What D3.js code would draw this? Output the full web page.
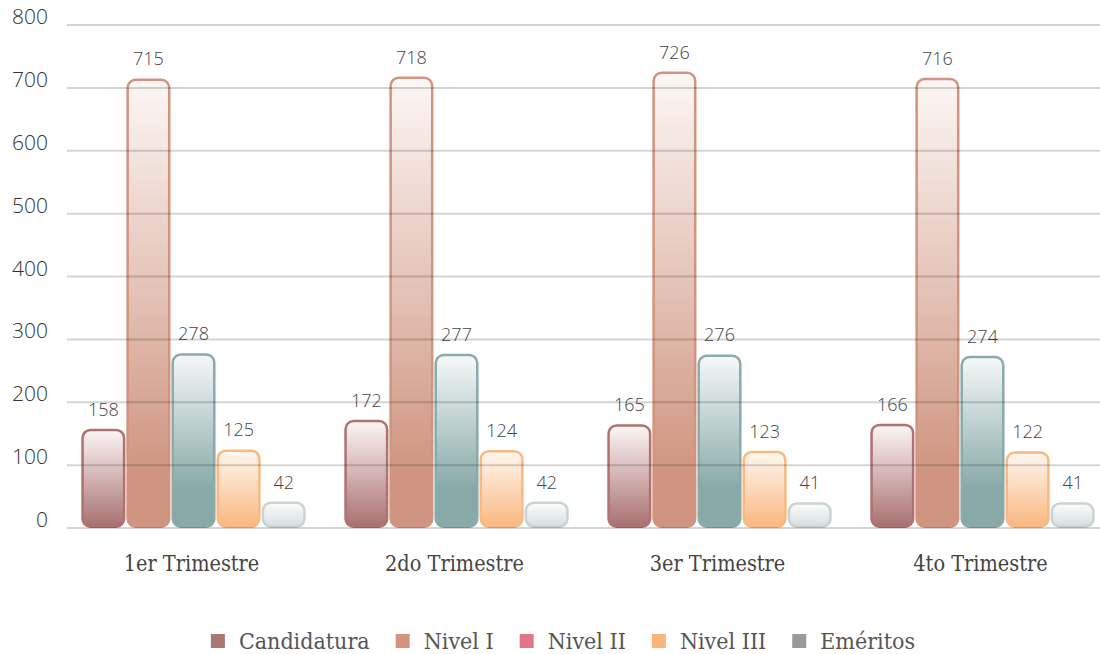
<!DOCTYPE html>
<html>
<head>
<meta charset="utf-8">
<script src="https://cdn.jsdelivr.net/npm/d3@7"></script>
<style>
	body { margin: 0; background: #fff; }
	svg { display: block; }
</style>
</head>
<body>
<svg id="chart" width="1100" height="654"></svg>
<script>
"use strict";

// Data
const categories = ["1er Trimestre", "2do Trimestre", "3er Trimestre", "4to Trimestre"];
const seriesNames = ["Candidatura", "Nivel I", "Nivel II", "Nivel III", "Eméritos"];
const candidatura = [158, 172, 165, 166];
const nivelI = [715, 718, 726, 716];
const nivelII = [278, 277, 276, 274];
const nivelIII = [125, 124, 123, 122];
const emeritos = [42, 42, 41, 41];
const yTicks = [0, 100, 200, 300, 400, 500, 600, 700, 800];

const seriesValues = [candidatura, nivelI, nivelII, nivelIII, emeritos];

// Styles
const legendColors = ["#a97872", "#d3937f", "#e27686", "#f9b57c", "#9a9a9a"];
const barStyles = [
	{top: "#fcf6f5", bottom: "#a87070", stop: 1.0, stroke: "#b07171"},
	{top: "#fcf7f5", bottom: "#cf9580", stop: 0.88, stroke: "#d3947f"},
	{top: "#f5f8f8", bottom: "#88a9a8", stop: 0.78, stroke: "#8aabaa"},
	{top: "#fff7f0", bottom: "#f9b880", stop: 1.0, stroke: "#fab982"},
	{top: "#fbfcfc", bottom: "#d7dedf", stop: 1.0, stroke: "#c9d3d4"}
];

const slabFont = "'DejaVu Serif Condensed', 'DejaVu Serif', serif";
const numFont = "'Open Sans', 'Noto Sans', sans-serif";

const svg = d3.select("#chart");

const y = d3.scaleLinear()
	.domain([0, 800])
	.range([528, 25]);

const x0 = d3.scaleBand()
	.domain(categories)
	.range([62, 1114])
	.paddingInner(0.143)
	.paddingOuter(0.0715);

const x1 = d3.scaleBand()
	.domain(seriesNames)
	.range([0, x0.bandwidth()]);

// Gradients
const defs = svg.append("defs");
barStyles.forEach((s, i) => {
	const g = defs.append("linearGradient")
		.attr("id", "grad-" + i)
		.attr("x1", 0).attr("y1", 0)
		.attr("x2", 0).attr("y2", 1);
	g.append("stop").attr("offset", 0).attr("stop-color", s.top);
	g.append("stop").attr("offset", s.stop).attr("stop-color", s.bottom);
});

// Bars
const bars = [];
categories.forEach((c, ci) => {
	seriesNames.forEach((s, si) => {
		bars.push({category: c, series: s, si, value: seriesValues[si][ci]});
	});
});

const barGroup = svg.append("g");
barGroup.selectAll("rect")
	.data(bars)
	.enter()
	.append("rect")
	.attr("x", d => x0(d.category) + x1(d.series) + 1.75)
	.attr("y", d => y(d.value) + 1.25)
	.attr("width", x1.bandwidth() - 3.5)
	.attr("height", d => y(0) - y(d.value) - 2.5)
	.attr("rx", 8)
	.attr("ry", 8)
	.style("fill", d => "url(#grad-" + d.si + ")")
	.style("stroke", d => barStyles[d.si].stroke)
	.style("stroke-width", 2.5);

// Gridlines (drawn over the bars)
svg.append("g")
	.selectAll("line")
	.data(yTicks)
	.enter()
	.append("line")
	.attr("x1", 67)
	.attr("x2", 1100)
	.attr("y1", d => y(d))
	.attr("y2", d => y(d))
	.style("stroke", "rgba(0,0,0,0.17)")
	.style("stroke-width", 2);

// Y axis labels
svg.append("g")
	.selectAll("text")
	.data(yTicks)
	.enter()
	.append("text")
	.attr("x", 48)
	.attr("y", d => y(d) - 1)
	.attr("text-anchor", "end")
	.style("font-family", numFont)
	.style("font-weight", 300)
	.style("font-size", "21px")
	.style("fill", "#333")
	.text(d => d);

// Value labels
barGroup.selectAll("text")
	.data(bars)
	.enter()
	.append("text")
	.attr("x", d => x0(d.category) + x1(d.series) + x1.bandwidth() / 2)
	.attr("y", d => y(d.value) - 13)
	.attr("text-anchor", "middle")
	.style("font-family", numFont)
	.style("font-weight", 300)
	.style("font-size", "18px")
	.style("fill", "#444")
	.text(d => d.value);

// Category labels
svg.append("g")
	.selectAll("text")
	.data(categories)
	.enter()
	.append("text")
	.attr("x", d => x0(d) + x0.bandwidth() / 2 - 2)
	.attr("y", 571)
	.attr("text-anchor", "middle")
	.style("font-family", slabFont)
	.style("font-size", "21.5px")
	.style("fill", "#444")
	.text(d => d);

// Legend
const legend = svg.append("g");
const items = legend.selectAll("g")
	.data(seriesNames)
	.enter()
	.append("g");

items.append("rect")
	.attr("width", 14)
	.attr("height", 14)
	.attr("y", -15)
	.style("fill", (d, i) => legendColors[i]);

items.append("text")
	.attr("x", 28)
	.attr("y", 0)
	.style("font-family", slabFont)
	.style("font-size", "23px")
	.style("fill", "#555")
	.text(d => d);

let offset = 0;
const offsets = [];
items.each(function() {
	offsets.push(offset);
	const w = d3.select(this).select("text").node().getComputedTextLength();
	offset += 28 + w + 26;
});
const totalWidth = offset - 26;
const legendX = 563 - totalWidth / 2;
items.attr("transform", (d, i) => `translate(${legendX + offsets[i]},649)`);
</script>
</body>
</html>
